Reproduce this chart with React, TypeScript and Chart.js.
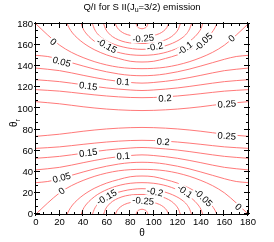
import React, { useEffect, useRef } from "react";
import { Chart, registerables } from "chart.js";
Chart.register(...registerables);

// ---- axis ticks (degrees) ----
const xTickValues = [0, 20, 40, 60, 80, 100, 120, 140, 160, 180];
const yTickValues = [0, 20, 40, 60, 80, 100, 120, 140, 160, 180];
const minorPerMajor = 3;

// ---- contour lines: [theta, theta_r] ----
// lower half
const cP025Low: number[][] = [[0,73.6],[20,75.6],[40,78.4],[60,80.6],[80,81.8],[90,82],[100,81.8],[120,80.6],[140,78.4],[160,75.6],[180,73.6]];
const cP020Low: number[][] = [[0,62.2],[20,63.6],[40,66],[60,68.2],[80,69.6],[90,69.8],[100,69.6],[120,68.2],[140,66],[160,63.6],[180,62.2]];
const cP015Low: number[][] = [[0,52.8],[20,54.6],[40,57.6],[60,60.6],[80,62.5],[90,63],[100,62.5],[120,60.6],[140,57.6],[160,54.6],[180,52.8]];
const cP010Low: number[][] = [[0,41.8],[20,44.2],[40,48.6],[60,52.8],[80,55.4],[90,56],[100,55.4],[120,52.8],[140,48.6],[160,44.2],[180,41.8]];
const cP005Low: number[][] = [[0,29.7],[10,30.8],[20,33.4],[30,36.6],[40,39.8],[50,42.8],[60,45.3],[70,47.3],[80,48.6],[90,49],[100,48.6],[110,47.3],[120,45.3],[130,42.8],[140,39.8],[150,36.6],[160,33.4],[170,30.8],[180,29.7]];
const cZeroLow: number[][] = [[0,0],[10,10.5],[20,20],[30,26.8],[40,31.8],[50,35.8],[60,38.8],[70,40.9],[80,42],[90,42.3],[100,42],[110,40.9],[120,38.8],[130,35.8],[140,31.8],[150,26.8],[160,20],[170,10.5],[180,0]];
const cM005Low: number[][] = [[26.5,0],[28,3.5],[31,8.5],[35,13.2],[40,17.8],[45,21.5],[50,24.6],[60,29.3],[70,32.6],[80,35.3],[90,36],[100,35.3],[110,32.6],[120,29.3],[130,24.6],[135,21.5],[140,17.8],[145,13.2],[149,8.5],[152,3.5],[153.5,0]];
const cM010Low: number[][] = [[38.5,0],[40,4.5],[43,9.5],[47,14],[52,18.3],[58,22],[65,25.2],[72,27.5],[80,29.1],[90,29.7],[100,29.1],[108,27.5],[115,25.2],[122,22],[128,18.3],[133,14],[137,9.5],[140,4.5],[141.5,0]];
const cM015Low: number[][] = [[48,0],[49.5,4.5],[52,9],[56,13.2],[61,16.6],[67,19.5],[74,21.8],[82,23.4],[90,24],[98,23.4],[106,21.8],[113,19.5],[119,16.6],[124,13.2],[128,9],[130.5,4.5],[132,0]];
const cM020Low: number[][] = [[57.5,0],[59,4.5],[61.5,8.5],[65,12],[70,15],[76,17.2],[83,18.3],[90,18.5],[97,18.3],[104,17.2],[110,15],[115,12],[118.5,8.5],[121,4.5],[122.5,0]];
const cM025Low: number[][] = [[67.5,0],[69,3.5],[71.5,6.5],[75,9],[80,10.8],[85,11.8],[90,12],[95,11.8],[100,10.8],[105,9],[108.5,6.5],[111,3.5],[112.5,0]];
const cM030Low: number[][] = [[85,0],[86,2.5],[88,4],[90,4.5],[92,4],[94,2.5],[95,0]];
// upper half
const cP025High: number[][] = [[0,106.4],[20,104.4],[40,101.6],[60,99.4],[80,98.2],[90,98],[100,98.2],[120,99.4],[140,101.6],[160,104.4],[180,106.4]];
const cP020High: number[][] = [[0,117.8],[20,116.4],[40,114],[60,111.8],[80,110.4],[90,110.2],[100,110.4],[120,111.8],[140,114],[160,116.4],[180,117.8]];
const cP015High: number[][] = [[0,127.2],[20,125.4],[40,122.4],[60,119.4],[80,117.5],[90,117],[100,117.5],[120,119.4],[140,122.4],[160,125.4],[180,127.2]];
const cP010High: number[][] = [[0,138.2],[20,135.8],[40,131.4],[60,127.2],[80,124.6],[90,124],[100,124.6],[120,127.2],[140,131.4],[160,135.8],[180,138.2]];
const cP005High: number[][] = [[0,150.3],[10,149.2],[20,146.6],[30,143.4],[40,140.2],[50,137.2],[60,134.7],[70,132.7],[80,131.4],[90,131],[100,131.4],[110,132.7],[120,134.7],[130,137.2],[140,140.2],[150,143.4],[160,146.6],[170,149.2],[180,150.3]];
const cZeroHigh: number[][] = [[0,180],[10,169.5],[20,160],[30,153.2],[40,148.2],[50,144.2],[60,141.2],[70,139.1],[80,138],[90,137.7],[100,138],[110,139.1],[120,141.2],[130,144.2],[140,148.2],[150,153.2],[160,160],[170,169.5],[180,180]];
const cM005High: number[][] = [[26.5,180],[28,176.5],[31,171.5],[35,166.8],[40,162.2],[45,158.5],[50,155.4],[60,150.7],[70,147.4],[80,144.7],[90,144],[100,144.7],[110,147.4],[120,150.7],[130,155.4],[135,158.5],[140,162.2],[145,166.8],[149,171.5],[152,176.5],[153.5,180]];
const cM010High: number[][] = [[38.5,180],[40,175.5],[43,170.5],[47,166],[52,161.7],[58,158],[65,154.8],[72,152.5],[80,150.9],[90,150.3],[100,150.9],[108,152.5],[115,154.8],[122,158],[128,161.7],[133,166],[137,170.5],[140,175.5],[141.5,180]];
const cM015High: number[][] = [[48,180],[49.5,175.5],[52,171],[56,166.8],[61,163.4],[67,160.5],[74,158.2],[82,156.6],[90,156],[98,156.6],[106,158.2],[113,160.5],[119,163.4],[124,166.8],[128,171],[130.5,175.5],[132,180]];
const cM020High: number[][] = [[57.5,180],[59,175.5],[61.5,171.5],[65,168],[70,165],[76,162.8],[83,161.7],[90,161.5],[97,161.7],[104,162.8],[110,165],[115,168],[118.5,171.5],[121,175.5],[122.5,180]];
const cM025High: number[][] = [[67.5,180],[69,176.5],[71.5,173.5],[75,171],[80,169.2],[85,168.2],[90,168],[95,168.2],[100,169.2],[105,171],[108.5,173.5],[111,176.5],[112.5,180]];
const cM030High: number[][] = [[85,180],[86,177.5],[88,176],[90,175.5],[92,176],[94,177.5],[95,180]];

const contourLines = [
  cP025Low, cP020Low, cP015Low, cP010Low, cP005Low, cZeroLow,
  cM005Low, cM010Low, cM015Low, cM020Low, cM025Low, cM030Low,
  cP025High, cP020High, cP015High, cP010High, cP005High, cZeroHigh,
  cM005High, cM010High, cM015High, cM020High, cM025High, cM030High,
];

// contour labels: text, theta, theta_r, rotation (deg)
const labelTexts = ["0", "-0.15", "-0.25", "-0.2", "-0.1", "-0.05", "0", "0.05", "0.15", "0.1", "0.2", "0.25",
  "0.25", "0.2", "0.15", "0.1", "0.05", "0", "-0.15", "-0.2", "-0.25", "-0.1", "-0.05", "0"];
const labelTheta = [14.7, 60, 91, 101, 126.5, 142, 166, 21.8, 44.4, 74, 109.5, 162,
  162, 108, 44.4, 74, 21.8, 21.8, 60, 101, 91, 126.5, 142, 171.8];
const labelThetaR = [163.2, 159.5, 166.4, 158.5, 157, 163, 166.4, 144.2, 121.2, 125.3, 109.6, 104.2,
  73.9, 68.5, 58.1, 55, 34.4, 21.8, 16, 21, 12.5, 21.5, 15.5, 6.6];
const labelAngle = [40, 30, -5, -12, -36, -44, -42, 15, 7, 4, -3, -4,
  4, 3, -7, -4, -15, -38, -30, 12, 5, 36, 44, 42];

const FONT = '"Liberation Sans", Arial, Helvetica, sans-serif';

const decorations = {
  id: "decorations",
  afterDatasetsDraw(chart: any) {
    const { ctx, chartArea: a, scales } = chart;
    const xs = scales.x, ys = scales.y;
    ctx.save();
    // contour labels with white gap
    ctx.font = `9.5px ${FONT}`;
    for (let i = 0; i < labelTexts.length; i++) {
      const px = xs.getPixelForValue(labelTheta[i]);
      const py = ys.getPixelForValue(labelThetaR[i]);
      ctx.save();
      ctx.translate(px, py);
      ctx.rotate((labelAngle[i] * Math.PI) / 180);
      const w = ctx.measureText(labelTexts[i]).width;
      ctx.fillStyle = "#ffffff";
      ctx.fillRect(-w / 2 - 1.5, -4.5, w + 3, 9);
      ctx.fillStyle = "#000000";
      ctx.textAlign = "center";
      ctx.textBaseline = "middle";
      ctx.fillText(labelTexts[i], 0, 0.5);
      ctx.restore();
    }
    // frame
    ctx.strokeStyle = "#000";
    ctx.lineWidth = 1;
    ctx.strokeRect(a.left - 0.5, a.top - 0.5, a.right - a.left + 1, a.bottom - a.top + 1);
    // ticks
    const step = 20 / minorPerMajor;
    ctx.beginPath();
    for (let k = 0; k <= 27; k++) {
      const v = k * step;
      const major = k % minorPerMajor === 0;
      const tin = major ? 4 : 2;
      const tout = major ? 2 : 1;
      const px = Math.round(xs.getPixelForValue(v)) - 0.5;
      ctx.moveTo(px, a.bottom + tout); ctx.lineTo(px, a.bottom - tin);
      ctx.moveTo(px, a.top - tout); ctx.lineTo(px, a.top + tin);
      const py = Math.round(ys.getPixelForValue(v)) - 0.5;
      ctx.moveTo(a.left - tout, py); ctx.lineTo(a.left + tin, py);
      ctx.moveTo(a.right + tout, py); ctx.lineTo(a.right - tin, py);
    }
    ctx.stroke();
    // tick labels
    ctx.fillStyle = "#000";
    ctx.font = `9.5px ${FONT}`;
    ctx.textAlign = "center";
    ctx.textBaseline = "alphabetic";
    for (const v of xTickValues) {
      ctx.fillText(String(v), xs.getPixelForValue(v), a.bottom + 11);
    }
    ctx.textAlign = "right";
    ctx.textBaseline = "middle";
    for (const v of yTickValues) {
      ctx.fillText(String(v), a.left - 3, ys.getPixelForValue(v) + 0.5);
    }
    // title with subscript
    const cx = (a.left + a.right) / 2;
    const p1 = "Q/I for S II(J", sub = "u", p2 = "=3/2) emission";
    ctx.textAlign = "left";
    ctx.textBaseline = "alphabetic";
    ctx.font = `9.5px ${FONT}`;
    const w1 = ctx.measureText(p1).width, w3 = ctx.measureText(p2).width;
    ctx.font = `7px ${FONT}`;
    const w2 = ctx.measureText(sub).width;
    let tx = cx - (w1 + w2 + w3) / 2;
    ctx.font = `9.5px ${FONT}`;
    ctx.fillText(p1, tx, 9.5);
    ctx.font = `7px ${FONT}`;
    ctx.fillText(sub, tx + w1, 12);
    ctx.font = `9.5px ${FONT}`;
    ctx.fillText(p2, tx + w1 + w2, 9.5);
    // x title
    ctx.textAlign = "center";
    ctx.font = `10px ${FONT}`;
    ctx.fillText("\u03b8", cx, 236);
    // y title rotated
    ctx.save();
    ctx.translate(17, 127);
    ctx.rotate(-Math.PI / 2);
    ctx.textAlign = "left";
    ctx.font = `10px ${FONT}`;
    const tw = ctx.measureText("\u03b8").width;
    ctx.fillText("\u03b8", 0, 0);
    ctx.font = `7px ${FONT}`;
    ctx.fillText("r", tw, 2.5);
    ctx.restore();
    ctx.restore();
  },
};

export default function App() {
  const ref = useRef<HTMLCanvasElement | null>(null);
  useEffect(() => {
    document.body.style.margin = "0";
    const canvas = ref.current;
    if (!canvas) return;
    const chart = new Chart(canvas, {
      type: "line",
      data: {
        datasets: contourLines.map((pts) => ({
          data: pts.map((p) => ({ x: p[0], y: p[1] })),
          borderColor: "#ff6a6a",
          borderWidth: 0.9,
          pointRadius: 0,
          fill: false,
          cubicInterpolationMode: "monotone" as const,
        })),
      },
      options: {
        animation: false,
        responsive: false,
        devicePixelRatio: 1,
        layout: { padding: { left: 36, right: 26, top: 24, bottom: 28 } },
        plugins: { legend: { display: false }, tooltip: { enabled: false }, title: { display: false } },
        scales: {
          x: { type: "linear", min: 0, max: 180, display: false },
          y: { type: "linear", min: 0, max: 180, display: false },
        },
      },
      plugins: [decorations],
    });
    return () => chart.destroy();
  }, []);
  return (
    <div style={{ width: 274, height: 242, background: "#fff" }}>
      <canvas ref={ref} width={274} height={242} style={{ display: "block", width: 274, height: 242 }} />
    </div>
  );
}
